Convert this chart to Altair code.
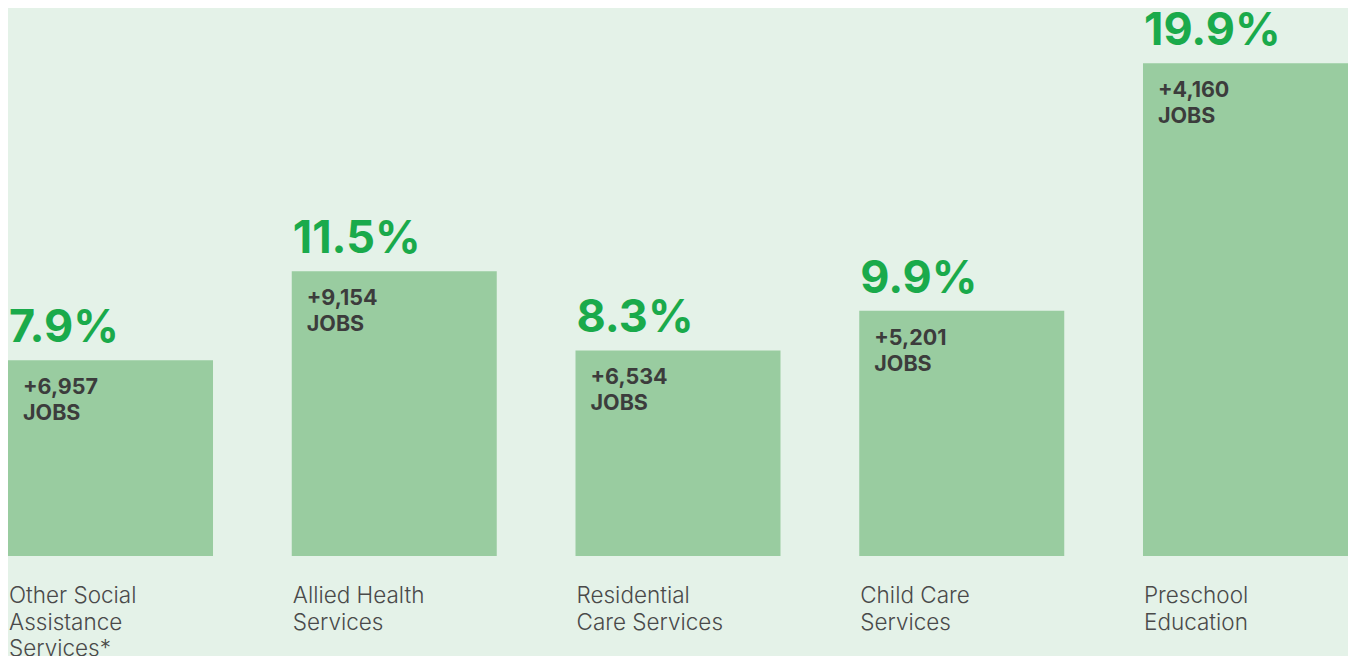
import altair as alt
import pandas as pd

categories = ["Other Social\nAssistance\nServices*", "Allied Health\nServices",
              "Residential\nCare Services", "Child Care\nServices", "Preschool\nEducation"]
growth_pct = [7.9, 11.5, 8.3, 9.9, 19.9]
jobs = ["+6,957", "+9,154", "+6,534", "+5,201", "+4,160"]

df = pd.DataFrame({
    "order": list(range(len(categories))),
    "category": categories,
    "pct": growth_pct,
    "pct_label": [f"{v:.1f}%" for v in growth_pct],
    "jobs_label": [f"{j}\nJOBS" for j in jobs],
    "zero": [0] * len(categories),
})

BG = "#e4f2e8"
BAR = "#99cca0"
GREEN = "#1aaa4b"
DARK = "#3c3c3c"
LABEL = "#4a4a4a"

x_scale = alt.Scale(paddingInner=0.2775, paddingOuter=0)
y_scale = alt.Scale(domain=[0, 22.13], nice=False, zero=True)

xb = alt.X("order:O", scale=x_scale, axis=None)
xs = alt.X("order:O", scale=x_scale, axis=None, bandPosition=0)

bars = alt.Chart(df).mark_bar(color=BAR).encode(
    x=xb,
    y=alt.Y("pct:Q", scale=y_scale, axis=None),
)

pct_text = alt.Chart(df).mark_text(
    align="left", baseline="alphabetic", dx=1, dy=-18,
    font="Inter", fontSize=45, fontWeight="bold", color=GREEN,
).encode(x=xs, y=alt.Y("pct:Q", scale=y_scale, axis=None), text="pct_label:N")

jobs_text = alt.Chart(df).mark_text(
    align="left", baseline="alphabetic", dx=15, dy=34, lineBreak="\n", lineHeight=26,
    font="Inter", fontSize=21.5, fontWeight="bold", color=DARK,
).encode(x=xs, y=alt.Y("pct:Q", scale=y_scale, axis=None), text="jobs_label:N")

cat_text = alt.Chart(df).mark_text(
    align="left", baseline="alphabetic", dx=1, dy=47, lineBreak="\n", lineHeight=26.5,
    font="Inter", fontSize=22.5, fontWeight=300, color=LABEL,
).encode(x=xs, y=alt.Y("zero:Q", scale=y_scale, axis=None), text="category:N")

chart = alt.layer(bars, pct_text, jobs_text, cat_text).properties(
    width=1340, height=548,
    padding={"left": 0, "top": 0, "right": 0, "bottom": 100},
    autosize=alt.AutoSizeParams(type="none"),
    background=BG,
).configure_view(stroke=None)

chart.save("out.html", embed_options={"renderer": "svg", "actions": False})
